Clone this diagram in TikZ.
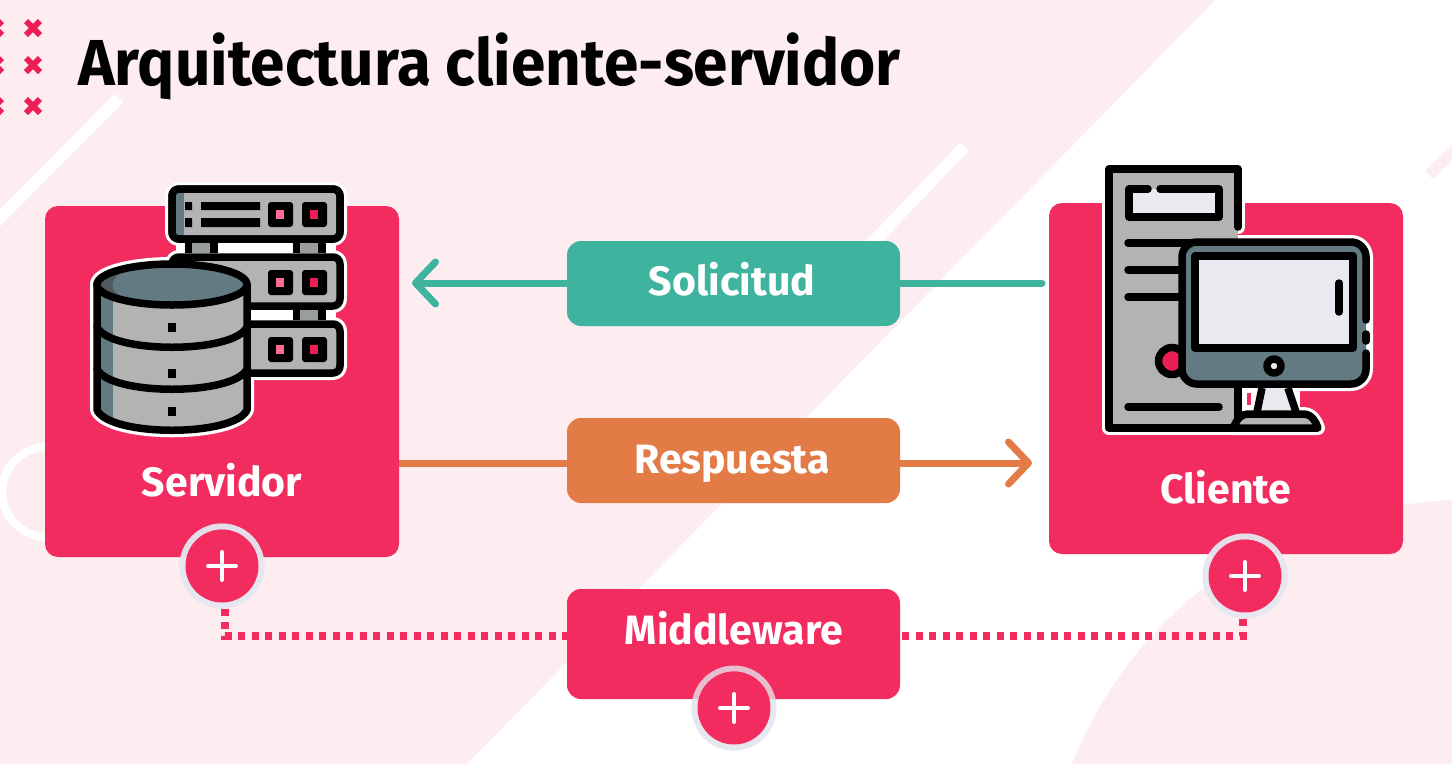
\documentclass[tikz,border=0pt]{standalone}
\usepackage{fontspec}
\setmainfont{Fira Sans}
\newfontfamily\titlefont[FakeStretch=0.955]{Fira Sans}
\usetikzlibrary{arrows.meta}
\definecolor{colPink}{HTML}{FDEDF0}
\definecolor{colRed}{HTML}{F22C5E}
\definecolor{colCross}{HTML}{EB1F55}
\definecolor{colHot}{HTML}{FF6B93}
\definecolor{colTeal}{HTML}{3EB49F}
\definecolor{colOrange}{HTML}{E27B45}
\definecolor{colGrey}{HTML}{B3B3B3}
\definecolor{colSlate}{HTML}{637A83}
\definecolor{colDark}{HTML}{4F5A5F}
\definecolor{colScreen}{HTML}{E9E9EF}
\definecolor{colRing}{HTML}{E5E7F0}
\tikzstyle{stripe}=[white,line width=12pt]
\tikzstyle{crossmark}=[colCross,line width=6pt]
\tikzstyle{bigbox}=[fill=colRed,rounded corners=13pt,minimum width=354pt,minimum height=351pt,inner sep=0pt]
\tikzstyle{midbox}=[rounded corners=14pt,minimum width=333pt,minimum height=85pt,inner sep=0pt]
\tikzstyle{boxtext}=[white,font=\bfseries\fontsize{41}{41}\selectfont,anchor=base,inner sep=0pt]
\tikzstyle{plusring}=[circle,draw=colRing,draw opacity=0.78,line width=6pt,minimum size=79pt,inner sep=0pt]
\tikzstyle{plusdisc}=[circle,fill=colRed,minimum size=73pt,inner sep=0pt,
	path picture={\draw[white,line width=4pt,line cap=round]
		([xshift=-14pt]path picture bounding box.center) -- ([xshift=14pt]path picture bounding box.center)
		([yshift=-14pt]path picture bounding box.center) -- ([yshift=14pt]path picture bounding box.center);}]
\tikzstyle{flow}=[line width=7pt,line cap=round,-{Straight Barb[length=20pt,width=42pt,round]}]
\tikzstyle{dotline}=[colRed,line width=8pt,dash pattern=on 7pt off 6.5pt]
\tikzstyle{ink}=[black,line width=7.5pt,line cap=round,line join=round]
\tikzstyle{halo}=[white,line width=14pt,line cap=round,line join=round]
\begin{document}
\begin{tikzpicture}[x=1pt,y=-1pt]
	\useasboundingbox (0,0) rectangle (1452,764);
	%%% Background
	\fill[white] (0,0) rectangle (1452,764);
	\fill[colPink] (0,0) -- (1215,0) -- (467,764) -- (0,764) -- cycle;
	\fill[colPink] (1072,764) .. controls (1130,620) and (1260,510) .. (1452,500) -- (1452,764) -- cycle;
	\begin{scope}
		\clip (0,0) rectangle (1452,764);
		\draw[stripe] (119,98) -- (-10,228);
		\draw[stripe] (964.5,146.5) -- (860,256);
		\draw[colPink,line width=12pt] (1429,175) -- (1470,135);
		\draw[white,line width=8pt] (47,492) circle [radius=45];
		%%% Crosses
		\foreach \cx in {-5,33}
			\foreach \cy in {28,65,106}
				\draw[crossmark,shift={(\cx,\cy)}] (-7,-7) -- (7,7) (-7,7) -- (7,-7);
	\end{scope}

	\node[anchor=base west,inner sep=0pt,font=\titlefont\bfseries\fontsize{65}{65}\selectfont] (title) at (78,85) {Arquitectura cliente-servidor};

	%%% Big boxes
	\node[bigbox] (servidor) at (222,381.5) {};
	\node[bigbox] (cliente) at (1226,378.5) {};
	\node[boxtext] (servidorlabel) at (222,496) {Servidor};
	\node[boxtext] (clientelabel) at (1226,503) {Cliente};

	%%% Connectors
	\coordinate (soltail) at (1042,283);
	\coordinate (soltip) at (412,283);
	\coordinate (restip) at (1032,463);
	\coordinate (leftdots) at (225,636);
	\coordinate (rightdots) at (1243,635.5);
	\node[plusring] (plusserver) at (222,566) {};
	\node[plusring] (pluscliente) at (1245,576) {};
	\node[plusring] (plusmiddle) at (734,708) {};
	\draw[flow,colTeal] (soltail) -- (soltip);
	\draw[flow,colOrange,line cap=butt] (servidor.east |- restip) -- (restip);
	\draw[dotline] (leftdots |- plusserver.south) -- (leftdots) -- (567,636);
	\draw[dotline] (rightdots |- pluscliente.south) -- (rightdots) -- (900,635.5);

	%%% Middle boxes
	\node[midbox,fill=colTeal] (solicitud) at (733.5,283.5) {};
	\node[midbox,fill=colOrange] (respuesta) at (733.5,460.5) {};
	\node[midbox,fill=colRed,minimum height=110pt] (middleware) at (733.5,644) {};
	\node[boxtext] (solicitudlabel) at (732,295) {Solicitud};
	\node[boxtext] (respuestalabel) at (732,473) {Respuesta};
	\node[boxtext] (middlewarelabel) at (734,644) {Middleware};

	%%% Plus buttons
	\node[plusring] (ringserver) at (plusserver) {};
	\node[plusring] (ringcliente) at (pluscliente) {};
	\node[plusring] (ringmiddle) at (plusmiddle) {};
	\node[plusdisc] (discserver) at (plusserver) {};
	\node[plusdisc] (disccliente) at (pluscliente) {};
	\node[plusdisc] (discmiddle) at (plusmiddle) {};

	%%% Server icon
	% Halo
	\foreach \ry/\rb in {189/239,257/306,324/373}
		\draw[halo,rounded corners=7pt] (172,\ry) rectangle (340,\rb);
	\fill[white] (176,240) rectangle (336,256);
	\fill[white] (176,306) rectangle (336,324);
	\draw[halo] (97,284) -- (97,410) .. controls (110,437) and (234,437) .. (247,410) -- (247,284);
	\draw[halo] (172,284.5) ellipse [x radius=75,y radius=20.5];
	% Spacers
	\foreach \sx in {185,293}
		\fill[black] (\sx,243) rectangle +(33,10);
	\fill[black] (293,310) rectangle +(33,10);
	\fill[colGrey!75!colDark] (192,243) rectangle (210,253);
	\fill[colGrey!75!colDark] (300,243) rectangle (318,253);
	\fill[colGrey!75!colDark] (300,310) rectangle (318,320);
	% Racks
	\foreach \ry/\rb in {189/239,257/306,324/373}{
		\draw[ink,fill=colGrey,rounded corners=7pt] (172,\ry) rectangle (340,\rb);
		\fill[black,rounded corners=3pt] (268,\ry+13) rectangle +(25,25);
		\fill[black,rounded corners=3pt] (302,\ry+13) rectangle +(25,25);
		\fill[colHot] (276,\ry+21) rectangle +(8,9);
		\fill[colCross] (310,\ry+21) rectangle +(8,9);
	}
	\fill[colSlate] (176,193) rectangle (184,235);
	\draw[ink,rounded corners=7pt] (172,189) rectangle (340,239);
	\fill[black] (185,202) rectangle (192,210) (185,218) rectangle (192,227);
	\fill[black] (201,202) rectangle (260,210) (201,218) rectangle (260,227);
	% Cylinder
	\fill[colGrey] (97,284) -- (97,410) .. controls (110,437) and (234,437) .. (247,410) -- (247,284) -- cycle;
	\begin{scope}
		\clip (97,284) -- (97,410) .. controls (110,437) and (234,437) .. (247,410) -- (247,284) -- cycle;
		\fill[colSlate] (97,284) rectangle (113,440);
	\end{scope}
	\fill[colSlate] (172,284.5) ellipse [x radius=75,y radius=20.5];
	\fill[colDark] (97,284.5) .. controls (100,270) and (125,266) .. (135,268) .. controls (105,274) and (105,296) .. (135,301) .. controls (115,301) and (100,295) .. (97,284.5) -- cycle;
	\draw[ink] (172,284.5) ellipse [x radius=75,y radius=20.5];
	\foreach \by in {327,369}
		\draw[ink] (97,\by) .. controls (110,\by+27) and (234,\by+27) .. (247,\by);
	\draw[ink] (97,284) -- (97,410) .. controls (110,437) and (234,437) .. (247,410) -- (247,284);
	\foreach \dy in {323,369,407}
		\fill[black] (168,\dy) rectangle +(8,8.5);

	%%% Client icon
	% Halo
	\draw[halo] (1109,169) -- (1238,169) -- (1238,227);
	\draw[halo] (1109,169) -- (1109,428) -- (1233,428);
	\draw[halo,rounded corners=15pt] (1182,242) rectangle (1366,384);
	\fill[white] (1238,388) rectangle (1300,414);
	\fill[colRed] (1247,393) rectangle (1251,405);
	\draw[halo] (1233,428) .. controls (1238,418) and (1240,414) .. (1250,414) -- (1303,414) .. controls (1312,414) and (1316,422) .. (1318,428) -- cycle;
	% Tower
	\fill[colGrey] (1109,169) -- (1238,169) -- (1238,428) -- (1109,428) -- cycle;
	\draw[ink] (1238,227) -- (1238,169) -- (1109,169) -- (1109,428) -- (1233,428);
	\fill[colScreen] (1129,189) rectangle (1219,217);
	\draw[ink] (1148,189) -- (1129,189) -- (1129,217) -- (1219,217) -- (1219,189) -- (1160,189);
	\foreach \ly in {243,270,297}
		\draw[ink] (1128,\ly) -- (1190,\ly);
	\draw[ink] (1128,407) -- (1219,407);
	\draw[ink,fill=colCross] (1172,361) circle [radius=13.5];
	% Monitor
	\fill[colSlate,rounded corners=15pt] (1182,242) rectangle (1366,384);
	\draw[ink,rounded corners=15pt] (1366,320) -- (1366,242) -- (1182,242) -- (1182,384) -- (1366,384) -- (1366,353);
	\draw[ink] (1366,334) -- (1366,341);
	\draw[ink,line cap=butt,fill=colScreen] (1195,256) rectangle (1353,348);
	\draw[ink] (1339,283) -- (1339,312);
	\draw[ink,fill=colScreen] (1274,366) circle [radius=7];
	% Stand
	\fill[colScreen] (1262,388) -- (1288,388) -- (1296,412) -- (1257,412) -- cycle;
	\draw[ink,line cap=butt] (1238,388) -- (1238,428);
	\draw[ink,line cap=butt] (1262,388) -- (1257,412);
	\draw[ink,line cap=butt] (1288,388) -- (1296,412);
	\draw[ink,fill=colGrey] (1233,428) .. controls (1238,418) and (1240,414) .. (1250,414) -- (1303,414) .. controls (1312,414) and (1316,422) .. (1318,428) -- cycle;
\end{tikzpicture}
\end{document}
